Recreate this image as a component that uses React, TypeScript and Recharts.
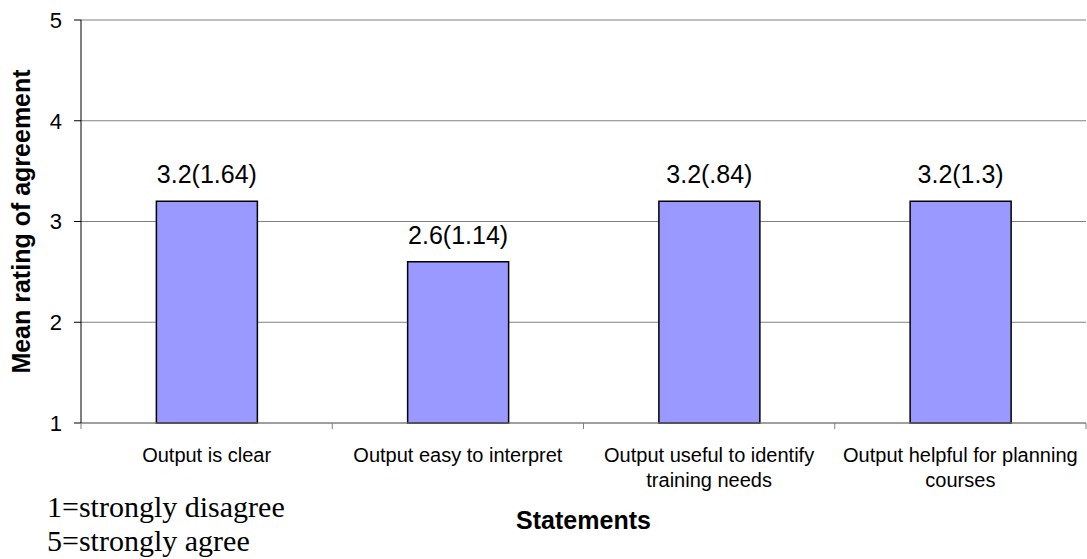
import React from 'react'
import { BarChart, Bar, XAxis, YAxis, CartesianGrid, LabelList } from 'recharts'

const statements = [
  'Output is clear',
  'Output easy to interpret',
  'Output useful to identify\ntraining needs',
  'Output helpful for planning\ncourses',
]
const means = [3.2, 2.6, 3.2, 3.2]
const sds = ['1.64', '1.14', '.84', '1.3']
const yTicks = [1, 2, 3, 4, 5]
const footnotes = ['1=strongly disagree', '5=strongly agree']

const data = statements.map((name, i) => ({ name, mean: means[i], label: `${means[i]}(${sds[i]})` }))

const font = 'Arial, "Liberation Sans", sans-serif'

function CategoryTick(props: any) {
  const { x, y, payload, index } = props
  const half = payload.offset || 0
  const lines = String(payload.value).split('\n')
  return (
    <g>
      <line x1={x - half} y1={y} x2={x - half} y2={y + 6} stroke="#808080" />
      {index === statements.length - 1 && (
        <line x1={x + half} y1={y} x2={x + half} y2={y + 6} stroke="#808080" />
      )}
      {lines.map((ln, i) => (
        <text
          key={i}
          x={x}
          y={y + 39 + i * 25}
          textAnchor="middle"
          fontSize={20}
          fontFamily={font}
          fill="#000"
        >
          {ln}
        </text>
      ))}
    </g>
  )
}

export default function App() {
  return (
    <div style={{ position: 'absolute', left: 0, top: 0, width: 1087, height: 559, background: '#fff' }}>
      <BarChart
        width={1087}
        height={559}
        data={data}
        margin={{ top: 20, right: 1, left: 0, bottom: 0 }}
        barCategoryGap="30%"
      >
        <CartesianGrid vertical={false} stroke="#808080" />
        <XAxis
          dataKey="name"
          height={136}
          interval={0}
          tickSize={0}
          tickMargin={0}
          tickLine={false}
          axisLine={{ stroke: '#808080' }}
          tick={<CategoryTick />}
          label={{
            value: 'Statements',
            position: 'insideBottom',
            offset: 30,
            style: { fontSize: 25, fontWeight: 700, fontFamily: font, fill: '#000' },
          }}
        />
        <YAxis
          width={81}
          domain={[1, 5]}
          ticks={yTicks}
          interval={0}
          tickSize={7}
          tickMargin={12}
          axisLine={{ stroke: '#000' }}
          tickLine={{ stroke: '#000' }}
          tick={{ fontSize: 22, fontFamily: font, fill: '#000' }}
          label={{
            value: 'Mean rating of agreement',
            angle: -90,
            position: 'insideLeft',
            offset: 21,
            style: { fontSize: 25, fontWeight: 700, fontFamily: font, fill: '#000', textAnchor: 'middle' },
          }}
        />
        <Bar dataKey="mean" fill="#9999FF" stroke="#000" strokeWidth={1.5} isAnimationActive={false}>
          <LabelList
            dataKey="label"
            position="top"
            offset={18}
            style={{ fontSize: 25, fontFamily: font, fill: '#000' }}
          />
        </Bar>
      </BarChart>
      <div
        style={{
          position: 'absolute',
          left: 47,
          top: 490,
          fontFamily: '"Times New Roman", "Liberation Serif", serif',
          fontSize: 30,
          lineHeight: '34px',
          color: '#000',
        }}
      >
        {footnotes.map((f) => (
          <div key={f}>{f}</div>
        ))}
      </div>
    </div>
  )
}
